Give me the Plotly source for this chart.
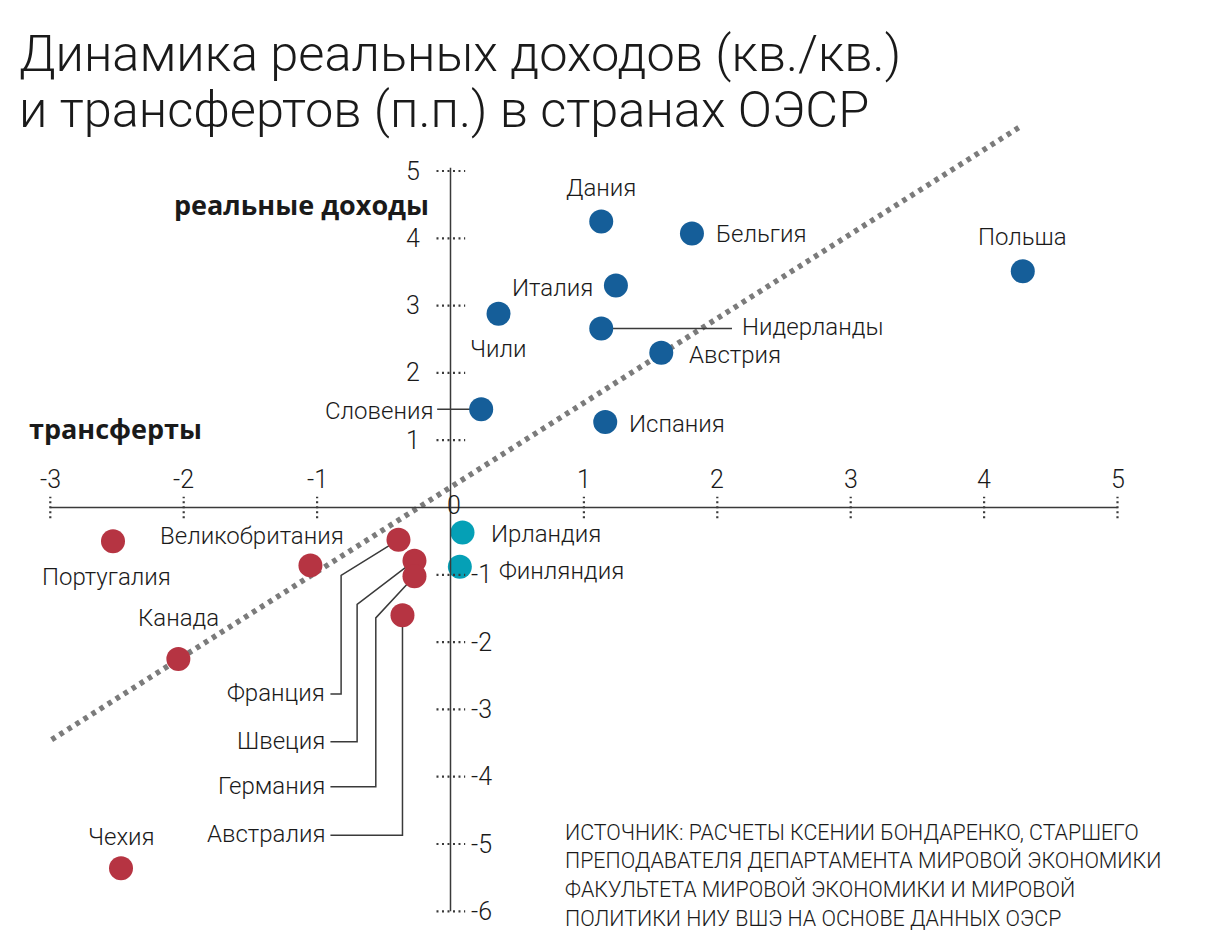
import plotly.graph_objects as go

# ---------------- data ----------------
blue_names = ["Дания", "Бельгия", "Польша", "Италия", "Чили", "Нидерланды", "Австрия", "Словения", "Испания"]
blue_x = [1.13, 1.81, 4.29, 1.24, 0.36, 1.13, 1.58, 0.23, 1.16]
blue_y = [4.25, 4.07, 3.51, 3.30, 2.88, 2.66, 2.30, 1.46, 1.27]

teal_names = ["Ирландия", "Финляндия"]
teal_x = [0.09, 0.07]
teal_y = [-0.37, -0.88]

red_names = ["Португалия", "Великобритания", "Франция", "Швеция", "Германия", "Австралия", "Канада", "Чехия"]
red_x = [-2.53, -1.05, -0.39, -0.27, -0.27, -0.36, -2.04, -2.47]
red_y = [-0.50, -0.86, -0.48, -0.79, -1.02, -1.60, -2.25, -5.36]

trend_x = [-2.99, 4.28]
trend_y = [-3.45, 5.67]

x_ticks = [-3, -2, -1, 1, 2, 3, 4, 5]
y_ticks_pos = [1, 2, 3, 4, 5]
y_ticks_neg = [-1, -2, -3, -4, -5, -6]

title_lines = ["Динамика реальных доходов (кв./кв.)", "и трансфертов (п.п.) в странах ОЭСР"]
source_lines = [
    "ИСТОЧНИК: РАСЧЕТЫ КСЕНИИ БОНДАРЕНКО, СТАРШЕГО",
    "ПРЕПОДАВАТЕЛЯ ДЕПАРТАМЕНТА МИРОВОЙ ЭКОНОМИКИ",
    "ФАКУЛЬТЕТА МИРОВОЙ ЭКОНОМИКИ И МИРОВОЙ",
    "ПОЛИТИКИ НИУ ВШЭ НА ОСНОВЕ ДАННЫХ ОЭСР",
]
y_title = "реальные доходы"
x_title = "трансферты"

# ---------------- styles ----------------
OFF = 8  # page body margin
W, H = 1206 - 2 * OFF, 942 - 2 * OFF
X0PX, Y0PX, XU, YU = 450.5 - OFF, 507.5 - OFF, 133.4, 67.3
BLUE, RED, TEAL = "#155e99", "#b63442", "#05a0b6"
AX = "#3a3a3a"
LIGHT = "Roboto, Lato, sans-serif"
BOLD = "Open Sans, Noto Sans, sans-serif"
TXT = "#1a1a1a"


def px_x(px):
    return (px - OFF) / W


def px_y(py):
    return 1 - (py - OFF) / H


# label placement: (xanchor, xshift, yshift)
label_pos = {
    "Дания": ("center", 0, 33),
    "Бельгия": ("left", 22, 0),
    "Польша": ("center", 0, 34),
    "Италия": ("right", -21, -3),
    "Чили": ("center", 0, -35),
    "Нидерланды": ("left", 139, 1),
    "Австрия": ("left", 26, -2),
    "Словения": ("right", -46, -2),
    "Испания": ("left", 22, -2),
    "Ирландия": ("left", 26, -2),
    "Финляндия": ("left", 37, -4),
    "Великобритания": ("right", 36, 29),
    "Португалия": ("center", -7, -36),
    "Канада": ("center", 0, 41),
    "Чехия": ("center", 0, 31),
}
elbow_label_x = -0.90
elbows = {
    "Франция": (-0.82, -1.01, -2.77),
    "Швеция": (-0.70, -1.44, -3.48),
    "Германия": (-0.56, -1.64, -4.15),
    "Австралия": (None, None, -4.87),
}
straight_leaders = {"Нидерланды": 2.11, "Словения": -0.10}

fig = go.Figure()

fig.add_trace(go.Scatter(x=trend_x, y=trend_y, mode="lines",
                         line=dict(color="#7b7b7b", width=5.5, dash="4.5px,5px"),
                         hoverinfo="skip", showlegend=False))

shapes = []
shapes.append(dict(type="line", xref="x", yref="y", x0=-3, x1=5, y0=0, y1=0,
                   line=dict(color=AX, width=1.5)))
shapes.append(dict(type="line", xref="x", yref="y", x0=0, x1=0, y0=-6, y1=5.05,
                   line=dict(color=AX, width=1.5)))
for t in x_ticks:
    shapes.append(dict(type="line", xref="x", yref="y", x0=t, x1=t, y0=-0.16, y1=0.16,
                       line=dict(color=AX, width=2.2, dash="2px,3px")))
for t in y_ticks_pos + y_ticks_neg:
    shapes.append(dict(type="line", xref="x", yref="y", x0=-0.105, x1=0.11, y0=t, y1=t,
                       line=dict(color=AX, width=2.2, dash="2px,3.5px")))

all_names = blue_names + teal_names + red_names
all_x = blue_x + teal_x + red_x
all_y = blue_y + teal_y + red_y
pts = {n: (x, y) for n, x, y in zip(all_names, all_x, all_y)}

for n, xe in straight_leaders.items():
    px, py = pts[n]
    fig.add_trace(go.Scatter(x=[px, xe], y=[py, py], mode="lines",
                             line=dict(color=AX, width=1.5), hoverinfo="skip", showlegend=False))
for n, (ex, ey, ly) in elbows.items():
    px, py = pts[n]
    if ex is None:
        xs, ys = [px, px, elbow_label_x], [py, ly, ly]
    else:
        xs, ys = [px, ex, ex, elbow_label_x], [py, ey, ly, ly]
    fig.add_trace(go.Scatter(x=xs, y=ys, mode="lines",
                             line=dict(color=AX, width=1.5), hoverinfo="skip", showlegend=False))

for xs, ys, c in [(blue_x, blue_y, BLUE), (teal_x, teal_y, TEAL), (red_x, red_y, RED)]:
    fig.add_trace(go.Scatter(x=xs, y=ys, mode="markers",
                             marker=dict(color=c, size=24, line=dict(width=0)),
                             hoverinfo="skip", showlegend=False))

ann = []
LF = dict(family=LIGHT, size=24, color=TXT, weight=300)
for n, (xa, xs_, ys_) in label_pos.items():
    px, py = pts[n]
    ann.append(dict(x=px, y=py, xref="x", yref="y", text=n, showarrow=False,
                    xanchor=xa, yanchor="middle", xshift=xs_, yshift=ys_, font=LF))
for n, (ex, ey, ly) in elbows.items():
    ann.append(dict(x=elbow_label_x, y=ly, xref="x", yref="y", text=n, showarrow=False,
                    xanchor="right", yanchor="middle", xshift=-3, yshift=1, font=LF))

TF = dict(family=LIGHT, size=25, color=TXT, weight=300)
for t in x_ticks:
    ann.append(dict(x=t, y=0, xref="x", yref="y", text=str(t), showarrow=False,
                    xanchor="center", yanchor="middle", yshift=28, font=TF))
for t in y_ticks_pos:
    ann.append(dict(x=0, y=t, xref="x", yref="y", text=str(t), showarrow=False,
                    xanchor="right", yanchor="middle", xshift=-29, font=TF))
for t in y_ticks_neg:
    ann.append(dict(x=0, y=t, xref="x", yref="y", text=str(t), showarrow=False,
                    xanchor="left", yanchor="middle", xshift=18, font=TF))
ann.append(dict(x=0, y=0, xref="x", yref="y", text="0", showarrow=False,
                xanchor="center", yanchor="middle", xshift=3, yshift=2, font=TF))

ann.append(dict(x=px_x(431), y=px_y(204), xref="paper", yref="paper", text="<b>" + y_title + "</b>",
                showarrow=False, xanchor="right", yanchor="middle",
                font=dict(family=BOLD, size=27, color=TXT)))
ann.append(dict(x=px_x(27), y=px_y(428), xref="paper", yref="paper", text="<b>" + x_title + "</b>",
                showarrow=False, xanchor="left", yanchor="middle",
                font=dict(family=BOLD, size=27, color=TXT)))

for i, line in enumerate(title_lines):
    ann.append(dict(x=px_x(17), y=px_y(54 + 55 * i), xref="paper", yref="paper", text=line,
                    showarrow=False, xanchor="left", yanchor="middle",
                    font=dict(family=LIGHT, size=50.5, color=TXT, weight=300)))
for i, line in enumerate(source_lines):
    ann.append(dict(x=px_x(563), y=px_y(832 + 28.7 * i), xref="paper", yref="paper", text=line,
                    showarrow=False, xanchor="left", yanchor="middle",
                    font=dict(family=LIGHT, size=21.4, color=TXT, weight=300)))

fig.update_layout(
    width=W, height=H,
    margin=dict(l=0, r=0, t=0, b=0, pad=0),
    paper_bgcolor="white", plot_bgcolor="white",
    xaxis=dict(range=[(0 - X0PX) / XU, (W - X0PX) / XU], visible=False, fixedrange=True),
    yaxis=dict(range=[(Y0PX - H) / YU, Y0PX / YU], visible=False, fixedrange=True),
    shapes=shapes, annotations=ann, showlegend=False,
)

fig.write_html("out.html")
